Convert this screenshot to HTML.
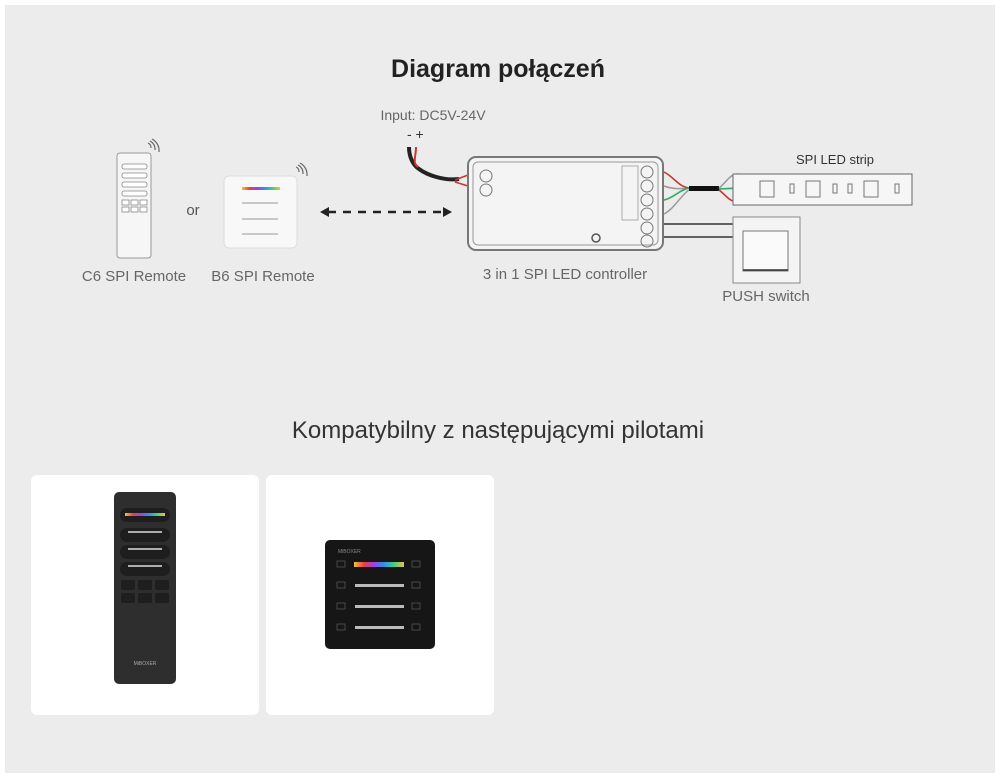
<!DOCTYPE html>
<html><head><meta charset="utf-8"><style>
html,body{margin:0;padding:0;background:#fff;width:1000px;height:780px;overflow:hidden}
svg{display:block}
text{font-family:"Liberation Sans",sans-serif}
</style></head><body>
<svg width="1000" height="780" viewBox="0 0 1000 780" xmlns="http://www.w3.org/2000/svg">
<defs>
<linearGradient id="rb" x1="0" x2="1"><stop offset="0" stop-color="#f0c040"/><stop offset=".2" stop-color="#e84040"/><stop offset=".4" stop-color="#a040e0"/><stop offset=".6" stop-color="#3090f0"/><stop offset=".8" stop-color="#40d080"/><stop offset="1" stop-color="#f0c040"/></linearGradient>
</defs>
<rect x="5" y="5" width="990" height="768" fill="#ececec"/>
<text x="498" y="77" font-size="25" font-weight="bold" fill="#222" text-anchor="middle">Diagram połączeń</text>

<!-- C6 remote -->
<rect x="117" y="153" width="34" height="105" rx="3" fill="#f6f6f6" stroke="#999"/>
<g fill="#fff" stroke="#888" stroke-width="0.8">
<rect x="122" y="164" width="25" height="5" rx="2"/><rect x="122" y="173" width="25" height="5" rx="2"/><rect x="122" y="182" width="25" height="5" rx="2"/><rect x="122" y="191" width="25" height="5" rx="2"/>
<rect x="122" y="200" width="7" height="5"/><rect x="131" y="200" width="7" height="5"/><rect x="140" y="200" width="7" height="5"/>
<rect x="122" y="207" width="7" height="5"/><rect x="131" y="207" width="7" height="5"/><rect x="140" y="207" width="7" height="5"/>
</g>
<path d="M151 148a5 5 0 0 0-3-5M155 150a9 9 0 0 0-5-9M159 152a13 13 0 0 0-7-13" fill="none" stroke="#666" stroke-width="1.2"/>
<text x="193" y="215" font-size="15" fill="#555" text-anchor="middle">or</text>
<!-- B6 -->
<rect x="224" y="176" width="73" height="72" rx="5" fill="#f8f8f8" stroke="#ddd"/>
<rect x="242" y="187" width="38" height="3" fill="url(#rb)"/>
<g stroke="#aaa" stroke-width="1.2"><line x1="242" y1="203" x2="278" y2="203"/><line x1="242" y1="219" x2="278" y2="219"/><line x1="242" y1="234" x2="278" y2="234"/></g>
<path d="M299 172a5 5 0 0 0-3-5M303 174a9 9 0 0 0-5-9M307 176a13 13 0 0 0-7-13" fill="none" stroke="#666" stroke-width="1.2"/>
<text x="134" y="281" font-size="15" fill="#666" text-anchor="middle">C6 SPI Remote</text>
<text x="263" y="281" font-size="15" fill="#666" text-anchor="middle">B6 SPI Remote</text>
<!-- dashed arrow -->
<line x1="328" y1="212" x2="446" y2="212" stroke="#222" stroke-width="2.5" stroke-dasharray="8,7"/>
<path d="M320 212l9-5v10z M452 212l-9-5v10z" fill="#222"/>
<!-- input -->
<text x="433" y="120" font-size="14" fill="#666" text-anchor="middle">Input: DC5V-24V</text>
<text x="407" y="139" font-size="14" fill="#333">-  +</text>
<path d="M409 147c0 10 4 18 10 22c8 6 25 12 40 10" fill="none" stroke="#222" stroke-width="4"/>
<path d="M416 147c0 10-4 16 2 20" fill="none" stroke="#c33" stroke-width="2"/>
<path d="M455 180l13-5M455 182l13 4" stroke="#c33" stroke-width="1.5"/>
<!-- controller -->
<rect x="468" y="157" width="195" height="93" rx="8" fill="#f4f4f4" stroke="#777" stroke-width="2"/>
<rect x="473" y="162" width="185" height="83" rx="5" fill="none" stroke="#999"/>
<circle cx="486" cy="176" r="6" fill="none" stroke="#777"/><circle cx="486" cy="190" r="6" fill="none" stroke="#777"/>
<circle cx="596" cy="238" r="4" fill="none" stroke="#555" stroke-width="1.5"/>
<g fill="none" stroke="#777"><circle cx="647" cy="172" r="6"/><circle cx="647" cy="186" r="6"/><circle cx="647" cy="200" r="6"/><circle cx="647" cy="214" r="6"/><circle cx="647" cy="228" r="6"/><circle cx="647" cy="241" r="6"/></g>
<rect x="622" y="166" width="16" height="54" fill="none" stroke="#999" stroke-width=".8"/>
<text x="565" y="279" font-size="15" fill="#666" text-anchor="middle">3 in 1 SPI LED controller</text>
<!-- wires to strip -->
<path d="M664 172c10 5 15 15 25 16M664 186c8 3 15 3 25 2M664 200c10-2 15-10 25-12M664 214c10-5 18-20 25-24" fill="none" stroke-width="1.5" stroke="#999"/>
<path d="M664 172c10 5 15 15 25 16" stroke="#c33" fill="none" stroke-width="1.5"/>
<path d="M664 200c10-2 15-10 25-12" stroke="#3a6" fill="none" stroke-width="1.5"/>
<rect x="689" y="186" width="30" height="5" fill="#111"/>
<path d="M719 188c8-6 10-14 20-14M719 189l20-1M719 190c8 6 10 12 20 12" fill="none" stroke-width="1.5" stroke="#999"/>
<path d="M719 189l20-1" stroke="#3a6" fill="none" stroke-width="1.5"/>
<path d="M719 190c8 6 10 12 20 12" stroke="#c33" fill="none" stroke-width="1.5"/>
<rect x="733" y="174" width="179" height="31" fill="#f6f6f6" stroke="#666"/>
<g fill="none" stroke="#777" stroke-width="1"><rect x="760" y="181" width="14" height="16"/><rect x="806" y="181" width="14" height="16"/><rect x="864" y="181" width="14" height="16"/><rect x="790" y="184" width="4" height="9"/><rect x="833" y="184" width="4" height="9"/><rect x="848" y="184" width="4" height="9"/><rect x="895" y="184" width="4" height="9"/></g>
<text x="835" y="164" font-size="13" fill="#333" text-anchor="middle">SPI  LED strip</text>
<!-- push switch -->
<line x1="664" y1="224" x2="734" y2="224" stroke="#333" stroke-width="1.5"/>
<line x1="664" y1="237" x2="734" y2="237" stroke="#333" stroke-width="1.5"/>
<rect x="733" y="217" width="67" height="66" fill="#f4f4f4" stroke="#888"/>
<rect x="743" y="231" width="45" height="40" fill="#fafafa" stroke="#777"/>
<line x1="743" y1="270" x2="788" y2="270" stroke="#333" stroke-width="1.5"/>
<text x="766" y="301" font-size="15" fill="#666" text-anchor="middle">PUSH switch</text>

<text x="498" y="438" font-size="24" fill="#333" text-anchor="middle">Kompatybilny z następującymi pilotami</text>
<rect x="31" y="475" width="228" height="240" rx="6" fill="#fff"/>
<rect x="266" y="475" width="228" height="240" rx="6" fill="#fff"/>
<!-- remote photo -->
<rect x="114" y="492" width="62" height="192" rx="5" fill="#2e2e2e"/>
<rect x="120" y="508" width="50" height="14" rx="7" fill="#1e1e1e"/>
<rect x="125" y="513" width="40" height="3" fill="url(#rb)"/>
<g fill="#1e1e1e"><rect x="120" y="528" width="50" height="14" rx="7"/><rect x="120" y="545" width="50" height="14" rx="7"/><rect x="120" y="562" width="50" height="14" rx="7"/>
<rect x="121" y="580" width="14" height="10" rx="2"/><rect x="138" y="580" width="14" height="10" rx="2"/><rect x="155" y="580" width="14" height="10" rx="2"/>
<rect x="121" y="593" width="14" height="10" rx="2"/><rect x="138" y="593" width="14" height="10" rx="2"/><rect x="155" y="593" width="14" height="10" rx="2"/></g>
<g stroke="#ddd" stroke-width="1.5"><line x1="128" y1="532" x2="162" y2="532"/><line x1="128" y1="549" x2="162" y2="549"/><line x1="128" y1="566" x2="162" y2="566"/></g>
<text x="145" y="665" font-size="5" fill="#aaa" text-anchor="middle">MiBOXER</text>
<!-- wall panel -->
<rect x="325" y="540" width="110" height="109" rx="5" fill="#161616"/>
<rect x="354" y="562" width="50" height="5" fill="url(#rb)"/>
<g fill="#bbb"><rect x="355" y="584" width="49" height="3"/><rect x="355" y="605" width="49" height="3"/><rect x="355" y="626" width="49" height="3"/></g>
<g fill="none" stroke="#555" stroke-width=".8"><rect x="337" y="561" width="8" height="6"/><rect x="412" y="561" width="8" height="6"/><rect x="337" y="582" width="8" height="6"/><rect x="412" y="582" width="8" height="6"/><rect x="337" y="603" width="8" height="6"/><rect x="412" y="603" width="8" height="6"/><rect x="337" y="624" width="8" height="6"/><rect x="412" y="624" width="8" height="6"/></g>
<text x="338" y="553" font-size="5" fill="#888">MiBOXER</text>
</svg>
</body></html>
